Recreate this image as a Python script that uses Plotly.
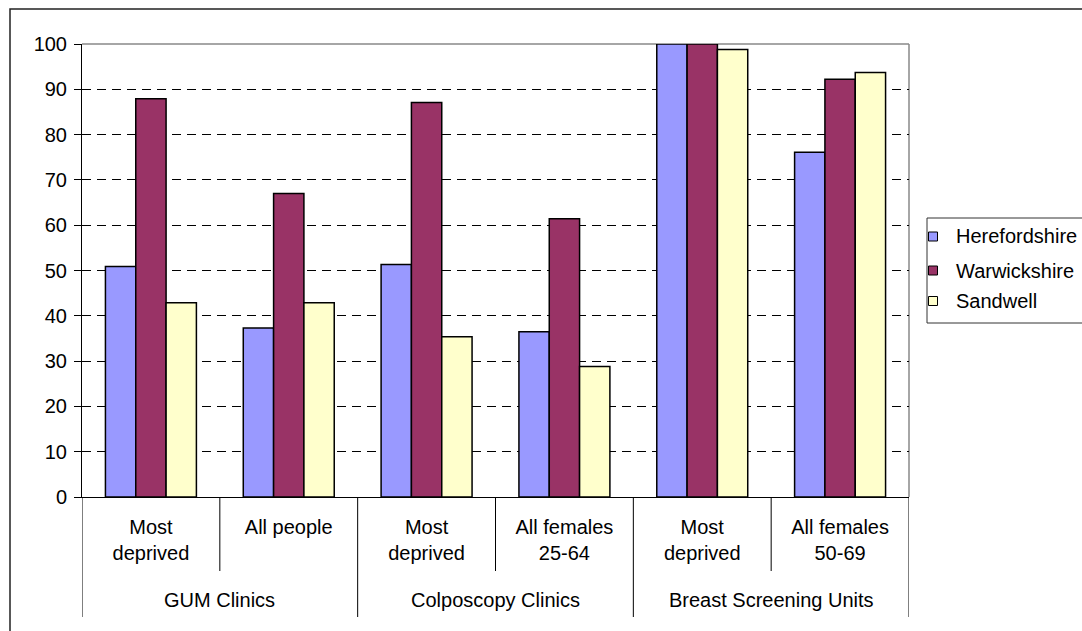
import plotly.graph_objects as go

# Service groups and the population subgroups within each
groups = ["GUM Clinics", "GUM Clinics",
          "Colposcopy Clinics", "Colposcopy Clinics",
          "Breast Screening Units", "Breast Screening Units"]
subgroups = ["Most<br>deprived", "All people",
             "Most<br>deprived", "All females<br>25-64",
             "Most<br>deprived", "All females<br>50-69"]

# Percentage values per area
herefordshire = [50.9, 37.3, 51.3, 36.5, 100.0, 76.1]
warwickshire = [87.9, 67.0, 87.1, 61.4, 100.0, 92.2]
sandwell = [42.9, 42.9, 35.4, 28.8, 98.8, 93.7]

series_names = ["Herefordshire", "Warwickshire", "Sandwell"]
series_colors = ["#9999FF", "#993366", "#FFFFCC"]
series_values = [herefordshire, warwickshire, sandwell]

y_ticks = [0, 10, 20, 30, 40, 50, 60, 70, 80, 90, 100]

FONT = "Arial, 'Liberation Sans', sans-serif"
W, H = 1082, 631
ML, MR, MT, MB = 82, 173, 44, 134
PW, PH = W - ML - MR, H - MT - MB

categories = [f"{g} / {s}" for g, s in zip(groups, subgroups)]


def px_x(px):
    return (px - ML) / PW


def px_y(py):
    return (H - MB - py) / PH


fig = go.Figure()
for name, color, vals in zip(series_names, series_colors, series_values):
    fig.add_trace(go.Bar(
        x=categories, y=vals, name=name,
        marker=dict(color=color, line=dict(color="black", width=1.5)),
        showlegend=False,
    ))

shapes = []
# outer chart frame
shapes.append(dict(type="rect", xref="paper", yref="paper",
                   x0=px_x(10), x1=px_x(1100), y0=px_y(9), y1=px_y(650),
                   line=dict(color="#222222", width=1.5), layer="below"))
# plot area border (top and right)
shapes.append(dict(type="line", xref="paper", yref="paper", x0=0, x1=1, y0=1, y1=1,
                   line=dict(color="#888888", width=1.5), layer="between"))
shapes.append(dict(type="line", xref="paper", yref="paper", x0=1, x1=1, y0=0, y1=1,
                   line=dict(color="#888888", width=1.5), layer="between"))

# separators below the axis: short ones between subgroups, long ones between groups
n = len(categories)
for i in range(n + 1):
    pos = i - 0.5
    is_group_edge = i == 0 or i == n or groups[i] != groups[i - 1]
    bottom = px_y(617) if is_group_edge else px_y(571)
    shapes.append(dict(type="line", xref="x", yref="paper", x0=pos, x1=pos,
                       y0=0, y1=bottom, line=dict(color="black", width=1)))

annotations = []
# group labels centred under their subgroups
seen = []
for g in groups:
    if g not in seen:
        seen.append(g)
for g in seen:
    idx = [i for i, gg in enumerate(groups) if gg == g]
    centre = (idx[0] + idx[-1]) / 2
    annotations.append(dict(x=centre, xref="x", y=px_y(600), yref="paper",
                            text=g, showarrow=False, yanchor="middle",
                            font=dict(family=FONT, size=20, color="black")))

# legend box
shapes.append(dict(type="rect", xref="paper", yref="paper",
                   x0=px_x(927), x1=px_x(1100), y0=px_y(218), y1=px_y(323),
                   line=dict(color="#333333", width=1), fillcolor="white"))
legend_rows = [236.5, 270.5, 301]
for name, color, yc in zip(series_names, series_colors, legend_rows):
    shapes.append(dict(type="rect", xref="paper", yref="paper",
                       x0=px_x(928.5), x1=px_x(937.5),
                       y0=px_y(yc - 4.5), y1=px_y(yc + 4.5),
                       line=dict(color="black", width=1), fillcolor=color))
    annotations.append(dict(x=px_x(954), xref="paper", y=px_y(yc), yref="paper",
                            text=name, showarrow=False, xanchor="left",
                            yanchor="middle",
                            font=dict(family=FONT, size=20, color="black")))

fig.update_layout(
    width=W, height=H,
    margin=dict(l=ML, r=MR, t=MT, b=MB, pad=0),
    paper_bgcolor="white", plot_bgcolor="white",
    barmode="group", bargap=0.34, bargroupgap=0,
    showlegend=False,
    font=dict(family=FONT, size=20, color="black"),
    shapes=shapes, annotations=annotations,
    xaxis=dict(
        type="category", tickvals=categories, ticktext=subgroups,
        showline=True, linecolor="black", linewidth=1,
        ticks="", showgrid=False, ticklabelstandoff=12,
        tickfont=dict(family=FONT, size=20, color="black"),
        range=[-0.5, n - 0.5],
    ),
    yaxis=dict(
        range=[0, 100], tickvals=y_ticks,
        showline=True, linecolor="black", linewidth=1,
        ticks="outside", ticklen=7, tickcolor="black", tickwidth=1,
        showgrid=True, gridcolor="black", gridwidth=1, griddash="9px,6px",
        zeroline=False, ticklabelstandoff=3,
        tickfont=dict(family=FONT, size=20, color="black"),
    ),
)

fig.write_html("out.html")
